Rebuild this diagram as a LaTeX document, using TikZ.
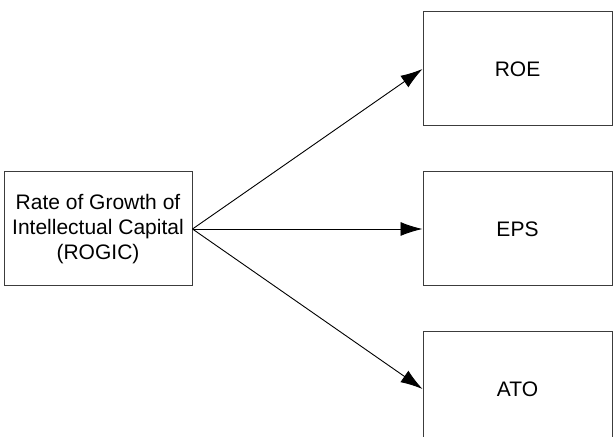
\documentclass[tikz,border=0pt]{standalone}
\usepackage{fontspec}
\setmainfont{Liberation Sans}
\usepackage{tikz}
\usetikzlibrary{arrows.meta, positioning}
\definecolor{boxline}{RGB}{60, 60, 60}

\begin{document}
\begin{tikzpicture}[x=0.5pt, y=-0.5pt,
    varbox/.style={draw=boxline, line width=0.5pt, fill=white, font=\fontsize{10.5}{12.3}\selectfont, minimum width=94.5pt, minimum height=57pt, inner sep=2pt, align=center},
    link/.style={-{Latex[length=11pt, width=7pt]}, line width=0.45pt, black}]
  \clip (0, 0) rectangle (616, 437);

  % Independent variable
  \node[varbox, minimum width=94pt] (rogic) at (98, 229) {Rate of Growth of\\Intellectual Capital\\(ROGIC)};

  % Dependent variables
  \node[varbox] (roe) at (517.5, 69) {ROE};
  \node[varbox] (eps) at (517.5, 229) {EPS};
  \node[varbox] (ato) at (517.5, 389) {ATO};

  % Links
  \draw[link] (rogic.east) -- (roe.west);
  \draw[link] (rogic.east) -- (eps.west);
  \draw[link] (rogic.east) -- (ato.west);
\end{tikzpicture}
\end{document}
